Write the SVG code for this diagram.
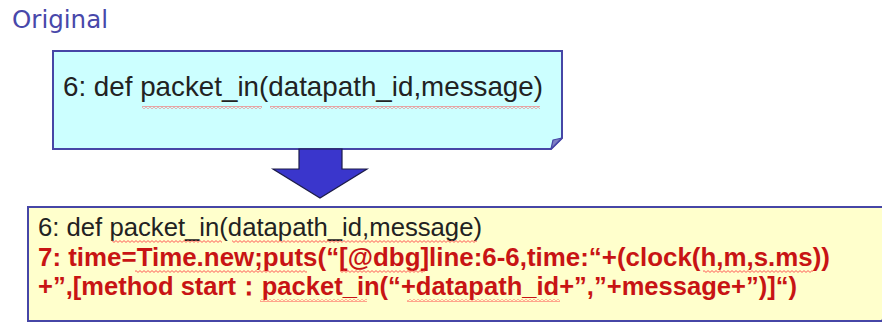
<svg xmlns="http://www.w3.org/2000/svg" width="882" height="322" viewBox="0 0 882 322">
  <style>
    .box { stroke: #4646a6; stroke-width: 2; }
    .fold { fill: #7e7ec4; stroke: #4646a6; stroke-width: 1.2; stroke-linejoin: round; }
    .code { font-family: "Liberation Sans", Arial, sans-serif; }
    .plain { fill: #222222; }
    .mod { fill: #c81414; font-weight: bold; }
    .squiggle { fill: url(#wave); }
  </style>
  <defs>
    <!-- spell-check wave under words -->
    <pattern id="wave" patternUnits="userSpaceOnUse" width="4" height="3">
      <path d="M0,0.6 L2,2.4 L4,0.6" fill="none" stroke="#ff4a4a" stroke-width="0.9"/>
    </pattern>
  </defs>

  <rect width="882" height="322" fill="#ffffff"/>

  <g id="title">
    <text x="12" y="28" font-family="'DejaVu Sans', Verdana, sans-serif" font-size="24.5" fill="#4848aa" textLength="96" lengthAdjust="spacingAndGlyphs">Original</text>
  </g>

  <g id="box-original">
    <path class="box" d="M53,51 H562 V138 L551,149 H53 Z" fill="#ccffff"/>
    <path class="fold" d="M562,138 L551,149 L553,140 Z"/>
    <text class="code plain" x="63" y="96" font-size="27.6" textLength="480" lengthAdjust="spacingAndGlyphs">6: def packet_in(datapath_id,message)</text>
    <rect class="squiggle" x="142" y="106" width="120" height="3"/>
    <rect class="squiggle" x="270" y="106" width="270" height="3"/>
  </g>

  <g id="connectors">
    <path d="M299,149 H342 V169 H367 L320,198 L273,169 H299 Z" fill="#3a36cc" stroke="#1c1c48" stroke-width="1.2" stroke-linejoin="miter"/>
  </g>

  <g id="box-modified">
    <path class="box" d="M28,207 H892 V311 L882,321 H28 Z" fill="#ffffcc"/>
    <path class="fold" d="M892,311 L882,321 L884,313 Z"/>
    <text class="code plain" x="38" y="236" font-size="25.7" textLength="444" lengthAdjust="spacingAndGlyphs">6: def packet_in(datapath_id,message)</text>
    <text class="code mod" x="38" y="266" font-size="25.8" textLength="792" lengthAdjust="spacingAndGlyphs">7: time=Time.new;puts(“[@dbg]line:6-6,time:“+(clock(h,m,s.ms))</text>
    <text class="code mod" x="38" y="295" font-size="25.8" textLength="759" lengthAdjust="spacingAndGlyphs">+”,[method start：packet_in(“+datapath_id+”,”+message+”)]“)</text>
    <rect class="squiggle" x="112" y="240" width="110" height="3"/>
    <rect class="squiggle" x="232" y="240" width="245" height="3"/>
    <rect class="squiggle" x="135" y="270" width="172" height="3"/>
    <rect class="squiggle" x="340" y="270" width="85" height="3"/>
    <rect class="squiggle" x="703" y="270" width="110" height="3"/>
    <rect class="squiggle" x="260" y="299" width="107" height="3"/>
    <rect class="squiggle" x="407" y="299" width="153" height="3"/>
  </g>
</svg>
